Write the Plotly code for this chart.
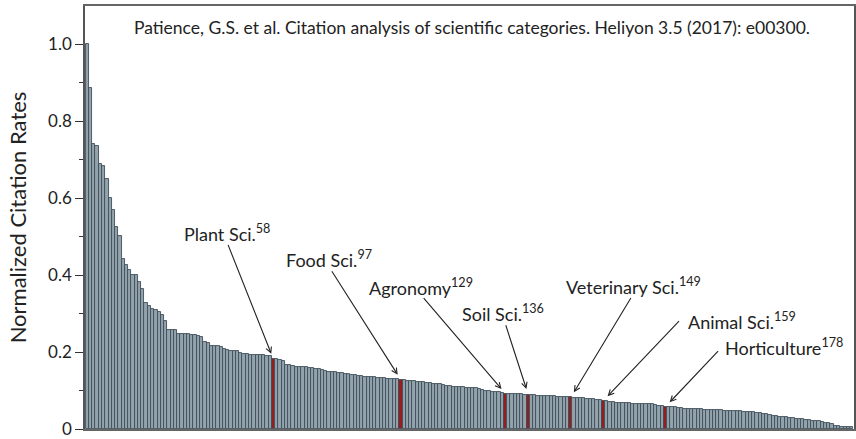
import plotly.graph_objects as go

# Normalized citation rate of each Web of Science category, sorted (rank 1..235)
rates = [
    1.000, 0.886, 0.742, 0.736, 0.690, 0.684, 0.650, 0.600, 0.570, 0.525,
    0.502, 0.443, 0.426, 0.414, 0.401, 0.400, 0.381, 0.363, 0.327, 0.319,
    0.313, 0.309, 0.304, 0.297, 0.281, 0.258, 0.258, 0.257, 0.247, 0.247,
    0.246, 0.246, 0.245, 0.245, 0.243, 0.238, 0.226, 0.223, 0.217, 0.215,
    0.215, 0.213, 0.207, 0.205, 0.204, 0.203, 0.202, 0.197, 0.195, 0.194,
    0.193, 0.193, 0.193, 0.192, 0.192, 0.190, 0.189, 0.181, 0.181, 0.180,
    0.178, 0.167, 0.166, 0.163, 0.162, 0.161, 0.160, 0.160, 0.159, 0.158,
    0.157, 0.155, 0.154, 0.151, 0.149, 0.148, 0.147, 0.146, 0.145, 0.144,
    0.142, 0.141, 0.140, 0.138, 0.137, 0.136, 0.135, 0.135, 0.134, 0.133,
    0.133, 0.132, 0.131, 0.131, 0.130, 0.129, 0.128, 0.127, 0.126, 0.125,
    0.124, 0.123, 0.122, 0.121, 0.120, 0.119, 0.118, 0.117, 0.116, 0.115,
    0.113, 0.111, 0.110, 0.109, 0.109, 0.108, 0.107, 0.107, 0.106, 0.106,
    0.104, 0.102, 0.100, 0.099, 0.097, 0.096, 0.095, 0.094, 0.092, 0.091,
    0.091, 0.090, 0.090, 0.090, 0.089, 0.089, 0.088, 0.088, 0.087, 0.087,
    0.086, 0.086, 0.085, 0.085, 0.084, 0.083, 0.083, 0.082, 0.082, 0.081,
    0.081, 0.080, 0.080, 0.079, 0.078, 0.077, 0.076, 0.075, 0.074, 0.073,
    0.071, 0.069, 0.068, 0.068, 0.067, 0.067, 0.067, 0.066, 0.066, 0.066,
    0.065, 0.065, 0.064, 0.064, 0.063, 0.061, 0.060, 0.058, 0.057, 0.057,
    0.056, 0.055, 0.054, 0.053, 0.052, 0.052, 0.051, 0.051, 0.051, 0.050,
    0.050, 0.050, 0.049, 0.049, 0.049, 0.048, 0.048, 0.047, 0.047, 0.046,
    0.046, 0.045, 0.045, 0.044, 0.044, 0.042, 0.041, 0.040, 0.038, 0.036,
    0.035, 0.034, 0.032, 0.031, 0.030, 0.029, 0.028, 0.027, 0.026, 0.025,
    0.024, 0.023, 0.022, 0.021, 0.020, 0.018, 0.016, 0.015, 0.012, 0.008,
    0.007, 0.006, 0.006, 0.005, 0.005,
]
ranks = list(range(1, len(rates) + 1))

# Highlighted agricultural categories and their ranks
highlight_names = ["Plant Sci.", "Food Sci.", "Agronomy", "Soil Sci.",
                   "Veterinary Sci.", "Animal Sci.", "Horticulture"]
highlight_ranks = [58, 97, 129, 136, 149, 159, 178]

# Label placement (pixel offsets from the bar top): arrow tail and text centre
arrow_ax = [-46, -70, -83, -23, 61, 77, 54]
arrow_ay = [-116, -110, -97, -71, -101, -81, -57]
text_dx = [-46, -72, -84, -25, 63, 139, 118]
text_dy = [126, 121, 107, 82, 111, 80, 60]

yticks = [0, 0.2, 0.4, 0.6, 0.8, 1.0]
yticklabels = ["0", "0.2", "0.4", "0.6", "0.8", "1.0"]

citation = ("Patience, G.S. et al. Citation analysis of scientific categories. "
            "Heliyon 3.5 (2017): e00300.")

FONT = "Lato"
GRAY = "#93a3ab"
EDGE = "#3f4f5a"
RED = "#9a1c1c"

colors = [RED if r in highlight_ranks else GRAY for r in ranks]

fig = go.Figure(go.Bar(
    x=ranks, y=rates,
    marker=dict(color=colors, line=dict(color=EDGE, width=0.9)),
    hoverinfo="x+y",
))

annotations = [dict(
    xref="paper", yref="paper", x=0.503, y=0.948,
    xanchor="center", yanchor="middle",
    text=citation, showarrow=False,
    font=dict(family=FONT, size=17.5, color="#222"),
)]
for name, rk, ax, ay, dx, dy in zip(highlight_names, highlight_ranks,
                                    arrow_ax, arrow_ay, text_dx, text_dy):
    val = rates[rk - 1]
    annotations.append(dict(
        x=rk, y=val, xref="x", yref="y", text="", showarrow=True,
        ax=ax, ay=ay, arrowhead=5, arrowsize=1, arrowwidth=1.1,
        arrowcolor="#222", standoff=6,
    ))
    annotations.append(dict(
        x=rk, y=val, xref="x", yref="y", showarrow=False,
        text=f"{name}<sup>{rk}</sup>", xshift=dx, yshift=dy,
        font=dict(family=FONT, size=18, color="#222"),
    ))

fig.update_layout(
    width=856, height=439,
    margin=dict(l=85, r=0, t=6, b=5),
    paper_bgcolor="white", plot_bgcolor="white",
    bargap=0, showlegend=False,
    font=dict(family=FONT, color="#222"),
    annotations=annotations,
    xaxis=dict(
        range=[0.3, 235.7], showticklabels=False, ticks="",
        showgrid=False, zeroline=False,
        showline=True, linecolor="#666", linewidth=1.8, mirror=True,
    ),
    yaxis=dict(
        range=[0, 1.1], tickvals=yticks, ticktext=yticklabels,
        ticks="outside", ticklen=8, tickwidth=1, tickcolor="#333",
        minor=dict(tickvals=[0.1, 0.3, 0.5, 0.7, 0.9], ticks="outside",
                   ticklen=4, tickcolor="#333", showgrid=False),
        tickfont=dict(family=FONT, size=17, color="#222"),
        ticklabeloverflow="allow",
        showgrid=False, zeroline=False,
        showline=True, linecolor="#555", linewidth=1.5, mirror=True,
        title=dict(text="Normalized Citation Rates",
                   font=dict(family=FONT, size=22, color="#222"), standoff=15),
    ),
)

fig.write_html(
    "out.html",
    config={"displayModeBar": False},
    post_script="document.body.style.margin='0';document.body.style.overflow='hidden';",
)
